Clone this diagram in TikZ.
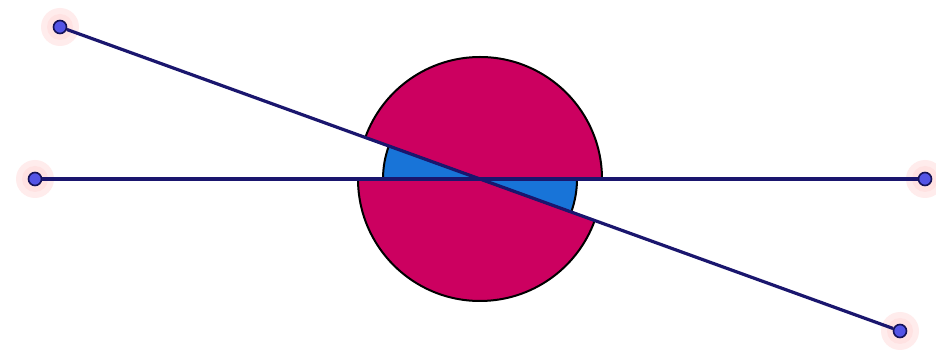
\documentclass[tikz,border=0pt]{standalone}
\definecolor{crim}{RGB}{204,0,96}
\definecolor{skyb}{RGB}{24,116,216}
\definecolor{navyl}{RGB}{26,22,110}
\definecolor{dotb}{RGB}{84,84,230}
\definecolor{halo}{RGB}{255,214,214}
\tikzset{
  sector/.style={draw=black, line width=2pt, line join=round},
  seg/.style={draw=navyl, line width=3.2pt},
  halodisk/.style={fill=halo, opacity=0.45},
  pt/.style={circle, minimum size=13pt, inner sep=0pt, fill=dotb, draw=navyl!80!black, line width=1.6pt}
}
\begin{document}
\begin{tikzpicture}[x=1pt,y=1pt]
\useasboundingbox (0,0) rectangle (936,361);
\fill[white] (0,0) rectangle (936,361);
\coordinate (O) at (480,182);
% halos
\foreach \p in {(60,334),(35,182),(925,182),(900,30)}{
  \fill[halodisk] \p circle (19);
  \fill[halodisk] \p circle (13);
}
% sectors
\filldraw[sector, fill=crim] (O) -- ++(0:122) arc[start angle=0, end angle=160.1, radius=122] -- cycle;
\filldraw[sector, fill=skyb] (O) -- ++(160.1:97) arc[start angle=160.1, end angle=180, radius=97] -- cycle;
\filldraw[sector, fill=crim] (O) -- ++(180:122) arc[start angle=180, end angle=340.1, radius=122] -- cycle;
\filldraw[sector, fill=skyb] (O) -- ++(340.1:97) arc[start angle=340.1, end angle=360, radius=97] -- cycle;
% endpoints
\node[pt] (A) at (60,334) {};
\node[pt] (B) at (35,182) {};
\node[pt] (C) at (925,182) {};
\node[pt] (D) at (900,30) {};
\draw[seg] (A) -- (D);
\draw[seg] (B) -- (C);
\end{tikzpicture}
\end{document}
